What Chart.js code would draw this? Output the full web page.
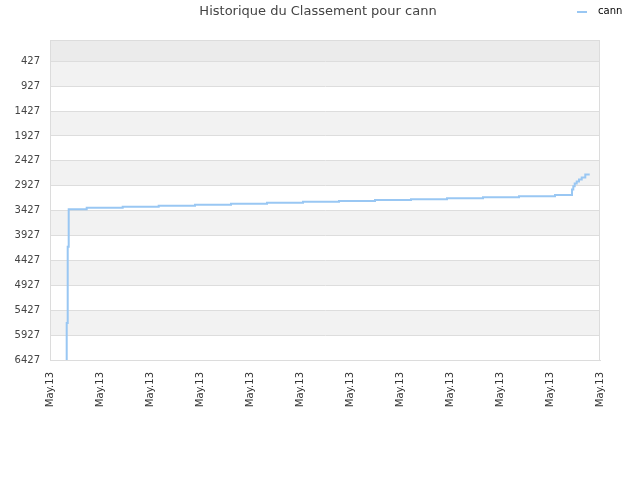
<!DOCTYPE html>
<html>
<head>
<meta charset="utf-8">
<script src="https://cdn.jsdelivr.net/npm/chart.js@4/dist/chart.umd.min.js"></script>
<style>
  html, body { margin: 0; padding: 0; background: #fff; }
  #wrap { width: 640px; height: 480px; position: relative; }
</style>
</head>
<body>
<div id="wrap"><canvas id="chart"></canvas></div>
<script>
// Time position of each step (0 = first tick, 10 units between ticks)
const timePoints = [3.34, 3.54, 3.74, 7.34, 14.54, 21.74, 29, 36.2, 43.4, 50.6, 57.8, 65, 72.2,
  79.4, 86.6, 93.8, 101, 104.4, 104.66, 104.94, 105.34, 105.8, 106.34, 107.06, 107.94]
// Ranking value for each step
const rankValues = [6427, 5684, 4153, 3397, 3371, 3351, 3331, 3311, 3291, 3271, 3251, 3234, 3216,
  3196, 3176, 3156, 3136, 3112, 3002, 2935, 2881, 2841, 2801, 2761, 2701]

const rankTicks = [427, 927, 1427, 1927, 2427, 2927, 3427, 3927, 4427, 4927, 5427, 5927, 6427]
const timeTicks = [0, 10, 20, 30, 40, 50, 60, 70, 80, 90, 100, 110]
const timeLabels = ["May.13", "May.13", "May.13", "May.13", "May.13", "May.13",
  "May.13", "May.13", "May.13", "May.13", "May.13", "May.13"]

const seriesName = "cann"
const chartTitle = "Historique du Classement pour cann"
const lineColor = "#99c7f3"
const font = "DejaVu Sans"

// Alternating grey/white bands between the rank ticks, plus the frame
const bandsPlugin = {
  id: "bands",
  beforeDraw(chart) {
    const { ctx, chartArea: a, scales: { y } } = chart
    ctx.save()
    const edges = [y.min].concat(rankTicks)
    for (let i = 0; i < edges.length - 1; i++) {
      const top = y.getPixelForValue(edges[i])
      const bottom = y.getPixelForValue(edges[i + 1])
      if (i === 0) ctx.fillStyle = "#ebebeb"
      else ctx.fillStyle = (i % 2 === 1) ? "#f2f2f2" : "#ffffff"
      ctx.fillRect(a.left, top, a.right - a.left, bottom - top)
    }
    ctx.restore()
  },
  afterDraw(chart) {
    const { ctx, chartArea: a } = chart
    ctx.save()
    ctx.strokeStyle = "#dcdcdc"
    ctx.lineWidth = 1
    ctx.strokeRect(a.left + 0.5, a.top + 0.5, a.right - a.left - 1, a.bottom - a.top)
    ctx.restore()
  }
}

// Title centred on top, legend in the top-right corner, on one row
const headerPlugin = {
  id: "header",
  afterDraw(chart) {
    const { ctx } = chart
    ctx.save()
    ctx.font = "13px '" + font + "'"
    ctx.fillStyle = "#444"
    ctx.textAlign = "center"
    ctx.textBaseline = "middle"
    ctx.fillText(chartTitle, 318, 12)

    ctx.strokeStyle = lineColor
    ctx.lineWidth = 2
    ctx.beginPath()
    ctx.moveTo(577, 12)
    ctx.lineTo(587, 12)
    ctx.stroke()

    ctx.font = "10px '" + font + "'"
    ctx.fillStyle = "#000"
    ctx.textAlign = "left"
    ctx.fillText(seriesName, 598, 11)
    ctx.restore()
  }
}

const points = timePoints.map((t, i) => ({ x: t, y: rankValues[i] }))

new Chart(document.getElementById("chart"), {
  type: "line",
  data: {
    datasets: [{
      label: seriesName,
      data: points,
      borderColor: lineColor,
      borderWidth: 2,
      stepped: "after",
      pointRadius: 0,
      fill: false
    }]
  },
  options: {
    responsive: true,
    maintainAspectRatio: false,
    animation: false,
    layout: { padding: { top: 40, right: 40, left: 0, bottom: 0 } },
    plugins: {
      legend: { display: false },
      title: { display: false },
      tooltip: { enabled: false }
    },
    scales: {
      x: {
        type: "linear",
        min: 0,
        max: 110,
        afterBuildTicks: (scale) => { scale.ticks = timeTicks.map(v => ({ value: v })) },
        afterFit: (scale) => { scale.height = 120 },
        ticks: {
          autoSkip: false,
          minRotation: 90,
          maxRotation: 90,
          padding: 12,
          color: "#333",
          font: { family: font, size: 10 },
          callback: (value, index) => timeLabels[index]
        },
        grid: { display: false, drawTicks: false },
        border: { color: "#dcdcdc" }
      },
      y: {
        reverse: true,
        min: 0,
        max: 6427,
        afterBuildTicks: (scale) => { scale.ticks = rankTicks.map(v => ({ value: v })) },
        afterFit: (scale) => { scale.width = 50 },
        ticks: {
          padding: 10,
          color: "#444",
          font: { family: font, size: 10 },
          callback: (value) => String(value)
        },
        grid: { color: "#dddddd", drawTicks: false },
        border: { color: "#dcdcdc" }
      }
    }
  },
  plugins: [bandsPlugin, headerPlugin]
})
</script>
</body>
</html>
